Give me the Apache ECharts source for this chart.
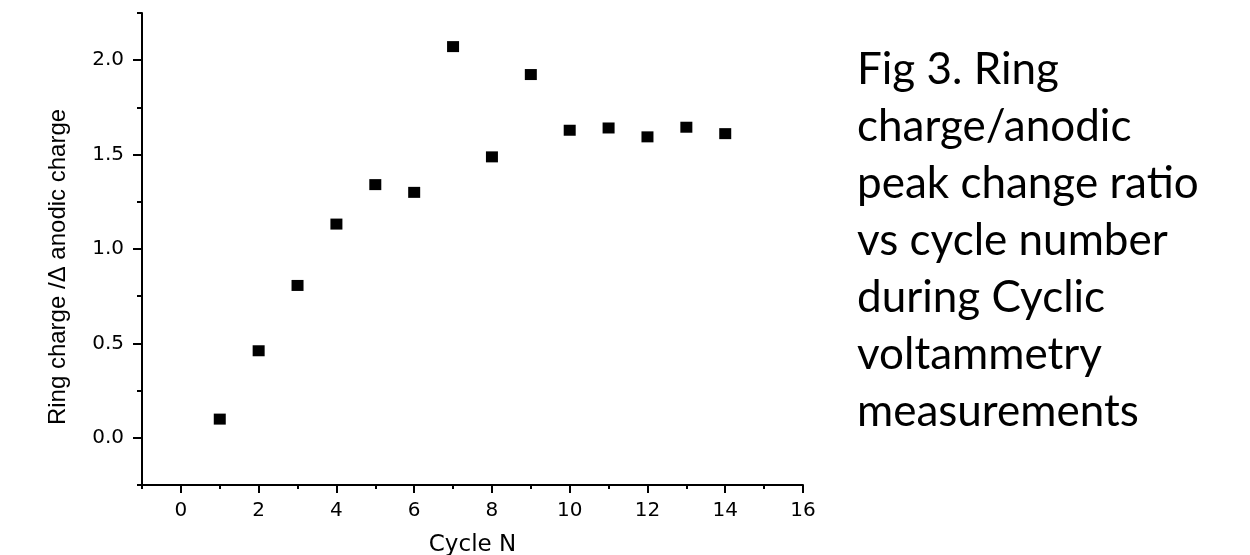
<!DOCTYPE html>
<html>
<head>
<meta charset="utf-8">
<script src="https://cdn.jsdelivr.net/npm/echarts@6/dist/echarts.min.js"></script>
<style>
html,body{margin:0;padding:0;background:#fff;}
#chart{width:1250px;height:555px;}
</style>
</head>
<body>
<div id="chart"></div>
<script>
// Data
var cycles = [1, 2, 3, 4, 5, 6, 7, 8, 9, 10, 11, 12, 13, 14];
var ratios = [0.099, 0.461, 0.807, 1.132, 1.341, 1.300, 2.072, 1.488, 1.924, 1.629, 1.641, 1.594, 1.645, 1.611];

// Ticks
var xMajorTicks = [0, 2, 4, 6, 8, 10, 12, 14, 16];
var xMinorTicks = [-1, 1, 3, 5, 7, 9, 11, 13, 15];
var yMajorTicks = [0.0, 0.5, 1.0, 1.5, 2.0];
var yMinorTicks = [-0.25, 0.25, 0.75, 1.25, 1.75, 2.25];

var xTitle = 'Cycle N';
var yTitle = 'Ring charge /\u0394 anodic charge';
var caption = 'Fig 3. Ring\ncharge/anodic\npeak change ratio\nvs cycle number\nduring Cyclic\nvoltammetry\nmeasurements';

var points = cycles.map(function (c, i) { return [c, ratios[i]]; });

var tickFont = { fontFamily: 'DejaVu Sans', fontSize: 20, color: '#000' };

var chart = echarts.init(document.getElementById('chart'), null, { renderer: 'canvas' });
chart.setOption({
  backgroundColor: '#fff',
  animation: false,
  title: {
    text: caption,
    left: 857,
    top: 41,
    padding: 0,
    textStyle: {
      fontFamily: 'Lato',
      fontWeight: 'normal',
      fontSize: 44,
      lineHeight: 57,
      color: '#000'
    }
  },
  grid: { left: 142, right: 447, top: 13, bottom: 70, containLabel: false, outerBoundsMode: 'none' },
  xAxis: [
    {
      type: 'value', min: -1, max: 16, position: 'bottom',
      axisLine: { show: true, onZero: false, lineStyle: { color: '#000', width: 2 } },
      axisTick: { show: true, customValues: xMajorTicks, length: 8, lineStyle: { color: '#000', width: 2 } },
      axisLabel: Object.assign({ customValues: xMajorTicks, margin: 16, formatter: function (v) { return String(v); } }, tickFont),
      splitLine: { show: false },
      name: xTitle, nameLocation: 'middle', nameGap: 49,
      nameTextStyle: { fontFamily: 'DejaVu Sans', fontSize: 23, color: '#000' }
    },
    {
      type: 'value', min: -1, max: 16, position: 'bottom',
      axisLine: { show: false, onZero: false },
      axisTick: { show: true, customValues: xMinorTicks, length: 4, lineStyle: { color: '#000', width: 2 } },
      axisLabel: { show: false },
      splitLine: { show: false }
    }
  ],
  yAxis: [
    {
      type: 'value', min: -0.25, max: 2.25, position: 'left',
      axisLine: { show: true, onZero: false, lineStyle: { color: '#000', width: 2 } },
      axisTick: { show: true, customValues: yMajorTicks, length: 9, lineStyle: { color: '#000', width: 2 } },
      axisLabel: Object.assign({ customValues: yMajorTicks, margin: 18, formatter: function (v) { return v.toFixed(1); } }, tickFont),
      splitLine: { show: false },
      name: yTitle, nameLocation: 'middle', nameGap: 72, nameRotate: 90,
      nameTextStyle: { fontFamily: 'Liberation Sans', fontSize: 24, color: '#000', padding: [0, 36, 0, 0] }
    },
    {
      type: 'value', min: -0.25, max: 2.25, position: 'left',
      axisLine: { show: false, onZero: false },
      axisTick: { show: true, customValues: yMinorTicks, length: 5, lineStyle: { color: '#000', width: 2 } },
      axisLabel: { show: false },
      splitLine: { show: false }
    }
  ],
  series: [
    {
      type: 'scatter',
      xAxisIndex: 0, yAxisIndex: 0,
      symbol: 'rect',
      symbolSize: [12, 11],
      itemStyle: { color: '#000', opacity: 1 },
      data: points
    }
  ]
});
</script>
</body>
</html>
